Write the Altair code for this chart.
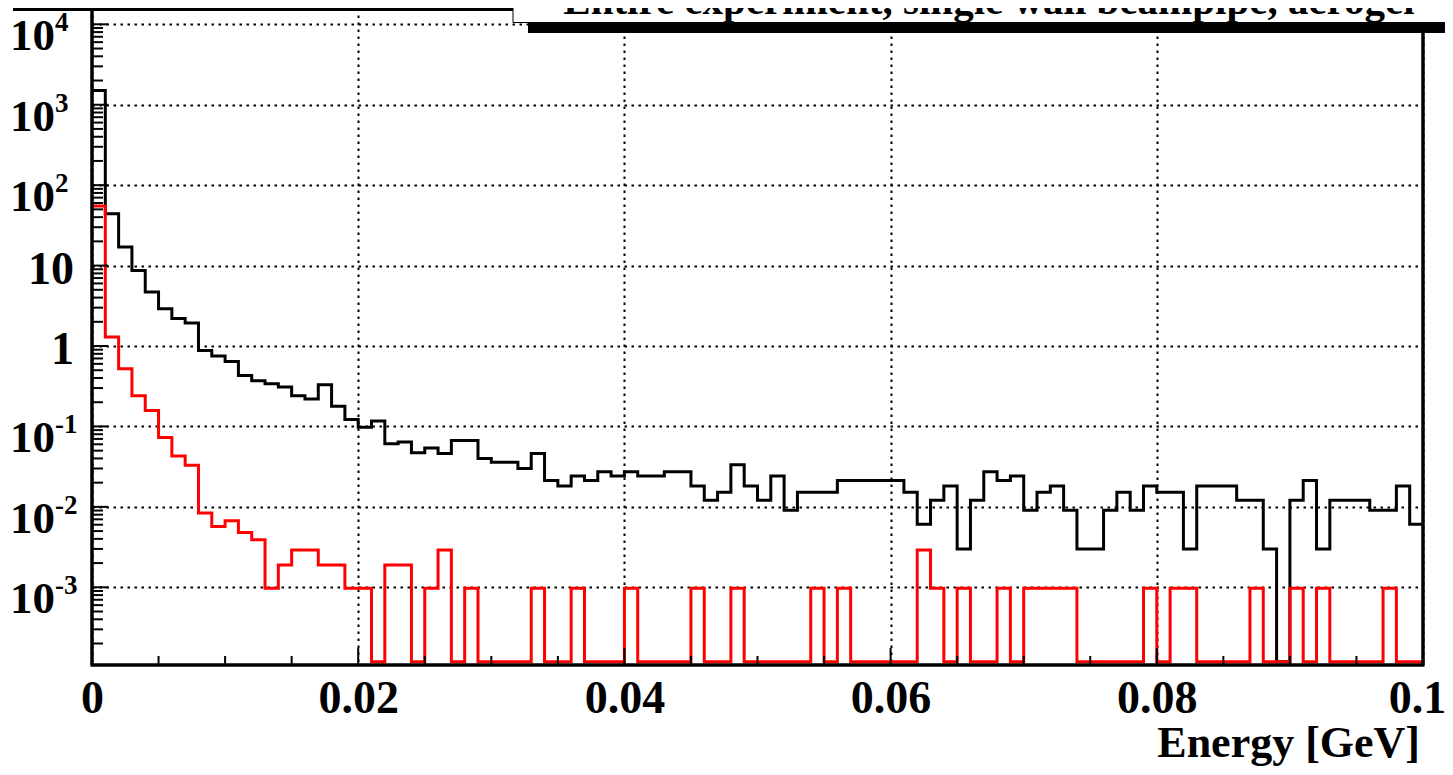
import altair as alt
import pandas as pd

# ---------------- data ----------------
bin_width = 0.001  # GeV, 100 bins from 0 to 0.1

black_vals = [
    1500, 44, 17, 8.7, 4.7, 2.9, 2.2, 1.93, 0.88, 0.75,
    0.64, 0.43, 0.37, 0.34, 0.31, 0.24, 0.22, 0.33, 0.178, 0.122,
    0.098, 0.117, 0.061, 0.064, 0.047, 0.054, 0.046, 0.067, 0.067, 0.040,
    0.036, 0.036, 0.030, 0.046, 0.0212, 0.0182, 0.0242, 0.0212, 0.0273, 0.0242,
    0.0273, 0.0242, 0.0242, 0.0273, 0.0273, 0.0182, 0.0121, 0.0152, 0.0333, 0.0182,
    0.0121, 0.0242, 0.0091, 0.0152, 0.0152, 0.0152, 0.0212, 0.0212, 0.0212, 0.0212,
    0.0212, 0.0152, 0.0061, 0.0121, 0.0182, 0.0030, 0.0121, 0.0273, 0.0212, 0.0242,
    0.0091, 0.0152, 0.0182, 0.0091, 0.0030, 0.0030, 0.0091, 0.0152, 0.0091, 0.0182,
    0.0152, 0.0152, 0.0030, 0.0182, 0.0182, 0.0182, 0.0121, 0.0121, 0.0030, 0,
    0.0121, 0.0212, 0.0030, 0.0121, 0.0121, 0.0121, 0.0091, 0.0091, 0.0182, 0.0061,
]

red_vals = [
    55, 1.29, 0.52, 0.24, 0.158, 0.073, 0.043, 0.033, 0.0084, 0.0057,
    0.0067, 0.0048, 0.0039, 0.00097, 0.0019, 0.0029, 0.0029, 0.0019, 0.0019, 0.00097,
    0.00097, 0, 0.0019, 0.0019, 0, 0.00097, 0.0029, 0, 0.00097, 0,
    0, 0, 0, 0.00097, 0, 0, 0.00097, 0, 0, 0,
    0.00097, 0, 0, 0, 0, 0.00097, 0, 0, 0.00097, 0,
    0, 0, 0, 0, 0.00097, 0, 0.00097, 0, 0, 0,
    0, 0, 0.0029, 0.00097, 0, 0.00097, 0, 0, 0.00097, 0,
    0.00097, 0.00097, 0.00097, 0.00097, 0, 0, 0, 0, 0, 0.00097,
    0, 0.00097, 0.00097, 0, 0, 0, 0, 0.00097, 0, 0,
    0.00097, 0, 0.00097, 0, 0, 0, 0, 0.00097, 0, 0,
]

x_major = [0, 0.02, 0.04, 0.06, 0.08, 0.1]
y_decades = [1e4, 1e3, 1e2, 10, 1, 0.1, 0.01, 0.001]
y_base_labels = ["10", "10", "10", "10", "1", "10", "10", "10"]
y_exp_labels = ["4", "3", "2", "", "", "-1", "-2", "-3"]

title_text = "Entire experiment, single wall beampipe, aerogel"
x_title = "Energy [GeV]"

# ---------------- layout constants ----------------
W, H = 1331, 657
Y_MIN, Y_MAX = 1.081e-4, 15950
ZERO_FLOOR = 1.19e-4
FONT = "Liberation Serif"


def hist_frame(vals):
    rows = [{"x": i * bin_width, "v": v} for i, v in enumerate(vals)]
    rows.append({"x": len(vals) * bin_width, "v": vals[-1]})
    return pd.DataFrame(rows)


black_df = hist_frame(black_vals)
red_df = hist_frame(red_vals)

xs = alt.Scale(domain=[0, 0.1], nice=False, zero=False)
ys = alt.Scale(type="log", domain=[Y_MIN, Y_MAX], nice=False)

grid_kw = dict(grid=True, gridColor="black", gridDash=[2.5, 4.5], gridWidth=2,
               gridOpacity=1, ticks=False, domain=False, title=None)

x_axis = alt.Axis(values=x_major, format="~g", labelFont=FONT, labelFontSize=46,
                  labelFontWeight="bold", labelColor="black", labelPadding=11,
                  labelFlush=False, labelOverlap=False,
                  labelOffset={"condition": {"test": "datum.value >= 0.099", "value": -6},
                               "value": 0},
                  **grid_kw)
y_axis = alt.Axis(values=y_decades, labels=False, **grid_kw)


def X(field):
    return alt.X(field, scale=xs, axis=x_axis)


def Y(field):
    return alt.Y(field, scale=ys, axis=y_axis)


black_line = alt.Chart(black_df).transform_calculate(
    vp=f"datum.v > 0 ? datum.v : {ZERO_FLOOR}"
).mark_line(interpolate="step-after", color="black", strokeWidth=3).encode(
    x=X("x:Q"), y=Y("vp:Q"),
)

red_line = alt.Chart(red_df).transform_calculate(
    vp=f"datum.v > 0 ? datum.v : {ZERO_FLOOR}"
).mark_line(interpolate="step-after", color="#ff0000", strokeWidth=3).encode(
    x=X("x:Q"), y=Y("vp:Q"),
)

# ---- ticks (inside, ROOT style) ----
x_minor = [round(k * 0.005, 4) for k in range(21) if k % 4 != 0]
y_minor = [k * 10.0 ** n for n in range(-4, 5) for k in range(2, 10)
           if Y_MIN < k * 10.0 ** n < Y_MAX]

xt_major = alt.Chart(pd.DataFrame({"x": x_major})).mark_rule(color="black", strokeWidth=2).encode(
    x=X("x:Q"), y=alt.value(H), y2=alt.value(H - 17))
xt_minor = alt.Chart(pd.DataFrame({"x": x_minor})).mark_rule(color="black", strokeWidth=2).encode(
    x=X("x:Q"), y=alt.value(H), y2=alt.value(H - 9))
yt_major = alt.Chart(pd.DataFrame({"vp": y_decades})).mark_rule(color="black", strokeWidth=2).encode(
    y=Y("vp:Q"), x=alt.value(0), x2=alt.value(16))
yt_minor = alt.Chart(pd.DataFrame({"vp": y_minor})).mark_rule(color="black", strokeWidth=2).encode(
    y=Y("vp:Q"), x=alt.value(0), x2=alt.value(11))

# ---- y labels: 10 with superscript exponents ----
ylab_df = pd.DataFrame({"vp": y_decades, "base": y_base_labels, "exp": y_exp_labels})
ylab_plain = alt.Chart(ylab_df).transform_filter("datum.exp == ''").mark_text(
    font=FONT, fontSize=46, fontWeight="bold", color="black", align="right",
    baseline="alphabetic", dy=18).encode(
    y=Y("vp:Q"), x=alt.value(-18), text="base:N")
ylab_base = alt.Chart(ylab_df).transform_filter("datum.exp != ''").mark_text(
    font=FONT, fontSize=45, fontWeight="bold", color="black", align="right",
    baseline="alphabetic", dy=26).encode(
    y=Y("vp:Q"), x=alt.value(-37), text="base:N")
ylab_exp = alt.Chart(ylab_df).transform_filter("datum.exp != ''").mark_text(
    font=FONT, fontSize=27, fontWeight="bold", color="black", align="left",
    baseline="alphabetic", dy=7).encode(
    y=Y("vp:Q"), x=alt.value(-37), text="exp:N")

# ---- frame ----
one = pd.DataFrame({"a": [0]})
frame_left = alt.Chart(one).mark_rule(color="black", strokeWidth=3.5).encode(
    x=alt.value(0), y=alt.value(0), y2=alt.value(H))
frame_right = alt.Chart(one).mark_rule(color="black", strokeWidth=3.5).encode(
    x=alt.value(W), y=alt.value(0), y2=alt.value(H))
frame_bottom = alt.Chart(one).mark_rule(color="black", strokeWidth=3.5).encode(
    y=alt.value(H), x=alt.value(-1.5), x2=alt.value(W + 1.5))
frame_top = alt.Chart(one).mark_rule(color="black", strokeWidth=3).encode(
    y=alt.value(1.5), x=alt.value(-79), x2=alt.value(421))

# ---- title pave (cut at the top of the canvas) ----
title_shadow = alt.Chart(one).mark_rect(color="black").encode(
    x=alt.value(436), x2=alt.value(1380), y=alt.value(14), y2=alt.value(25))
title_box = alt.Chart(one).mark_rect(fill="white", stroke="black", strokeWidth=1).encode(
    x=alt.value(421), x2=alt.value(1380), y=alt.value(-30), y2=alt.value(14.5))
title_mark = alt.Chart(pd.DataFrame({"t": [title_text]})).mark_text(
    font=FONT, fontSize=41, fontWeight="bold", color="black", align="center",
    baseline="alphabetic").encode(x=alt.value(897), y=alt.value(6), text="t:N")

xtitle_mark = alt.Chart(pd.DataFrame({"t": [x_title]})).mark_text(
    font=FONT, fontSize=44, fontWeight="bold", color="black", align="right",
    baseline="alphabetic").encode(x=alt.value(1328), y=alt.value(749), text="t:N")

chart = alt.layer(
    black_line, red_line,
    xt_major, xt_minor, yt_major, yt_minor,
    frame_left, frame_right, frame_bottom, frame_top,
    ylab_plain, ylab_base, ylab_exp,
    title_shadow, title_box, title_mark, xtitle_mark,
).properties(
    width=W, height=H,
    padding={"left": 84, "top": 0, "right": 22, "bottom": 105},
    autosize=alt.AutoSizeParams(type="none"),
    background="white",
).configure_view(stroke=None)

chart.save("out.html", embed_options={"renderer": "svg", "actions": False})
